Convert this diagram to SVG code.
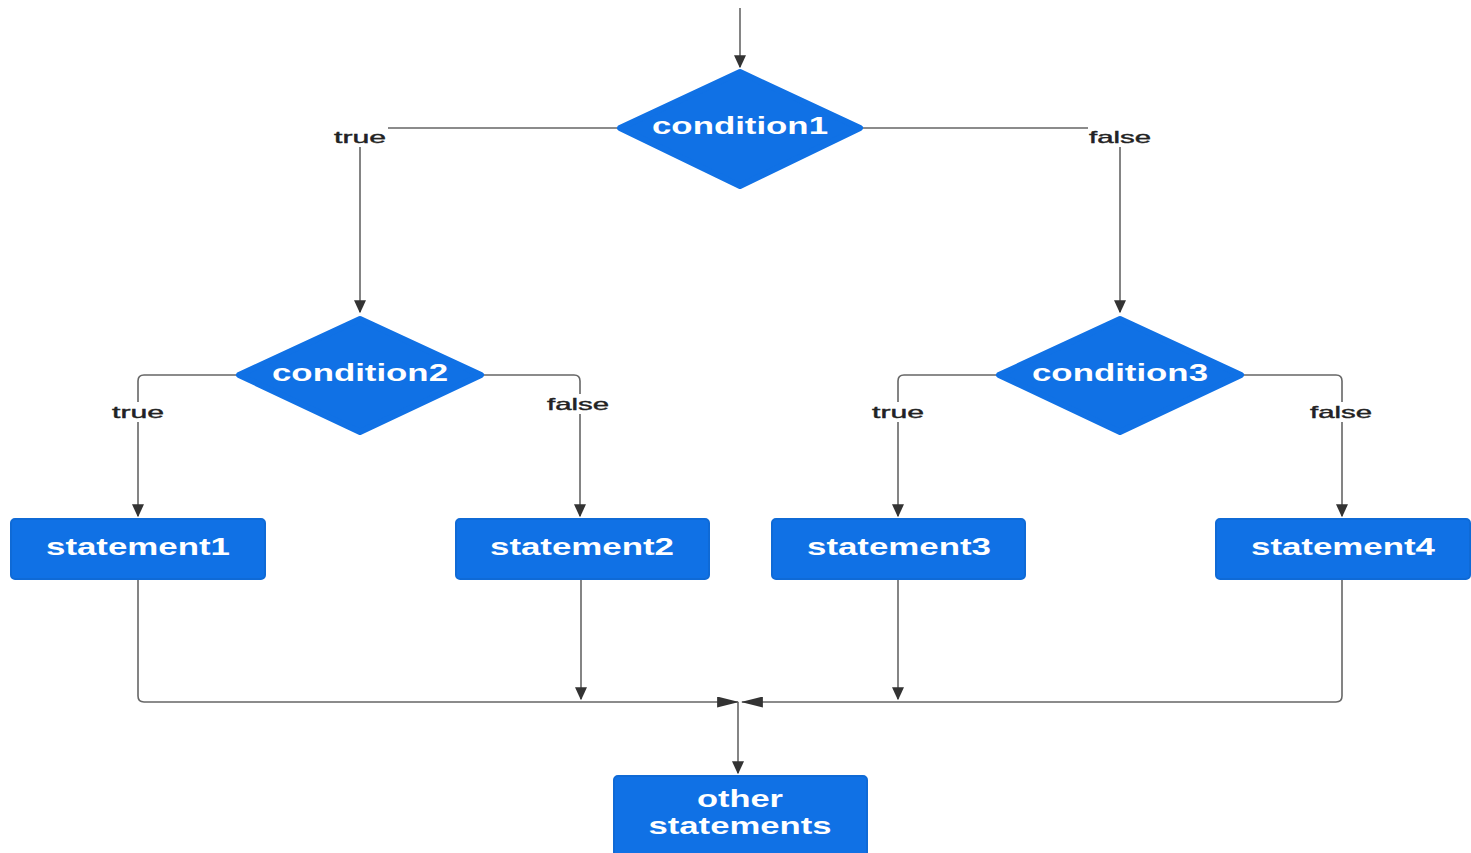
<svg xmlns="http://www.w3.org/2000/svg" width="1471" height="853" viewBox="0 0 1471 853">
<defs>
<marker id="ah" viewBox="0 0 10 10" refX="9" refY="5" markerWidth="13" markerHeight="12" markerUnits="userSpaceOnUse" orient="auto" preserveAspectRatio="none">
<path d="M0,0 L10,5 L0,10 z" fill="#333"/>
</marker>
<marker id="ahw" viewBox="0 0 10 10" refX="9.5" refY="5" markerWidth="22" markerHeight="11" markerUnits="userSpaceOnUse" orient="auto" preserveAspectRatio="none">
<path d="M0,0 L10,5 L0,10 z" fill="#333"/>
</marker>
<style>
.edge{fill:none;stroke:#666;stroke-width:1.6;stroke-linejoin:round}
.shape{fill:#1071e5;stroke:#0f6ad6;stroke-width:2}
.dia{fill:#1071e5;stroke:#1071e5;stroke-width:6;stroke-linejoin:round}
.nt{font-family:"Liberation Sans",Arial,sans-serif;font-weight:bold;font-size:24px;fill:#ffffff;text-anchor:middle}
.lbl{font-family:"Liberation Sans",Arial,sans-serif;font-size:17px;fill:#222;text-anchor:middle;stroke:#222;stroke-width:0.4}
.lbg{fill:#ffffff}
</style>
</defs>
<rect width="1471" height="853" fill="#ffffff"/>
<g id="connectors">
<path class="edge" d="M740,8 V67" marker-end="url(#ah)"/>
<path class="edge" d="M617,128 H366 Q360,128 360,134 V312" marker-end="url(#ah)"/>
<path class="edge" d="M863,128 H1114 Q1120,128 1120,134 V312" marker-end="url(#ah)"/>
<path class="edge" d="M236,375 H144 Q138,375 138,381 V516" marker-end="url(#ah)"/>
<path class="edge" d="M484,375 H574 Q580,375 580,381 V516" marker-end="url(#ah)"/>
<path class="edge" d="M996,375 H904 Q898,375 898,381 V516" marker-end="url(#ah)"/>
<path class="edge" d="M1244,375 H1336 Q1342,375 1342,381 V516" marker-end="url(#ah)"/>
<path class="edge" d="M138,579 V696 Q138,702 144,702 H738" marker-end="url(#ahw)"/>
<path class="edge" d="M1342,579 V696 Q1342,702 1336,702 H742" marker-end="url(#ahw)"/>
<path class="edge" d="M581,579 V699" marker-end="url(#ah)"/>
<path class="edge" d="M898,579 V699" marker-end="url(#ah)"/>
<path class="edge" d="M738,702 V773" marker-end="url(#ah)"/>
<rect class="lbg" x="332" y="127" width="56" height="20"/>
<text class="lbl" x="360" y="143" textLength="52" lengthAdjust="spacingAndGlyphs">true</text>
<rect class="lbg" x="1088" y="127" width="66" height="20"/>
<text class="lbl" x="1120" y="143" textLength="62" lengthAdjust="spacingAndGlyphs">false</text>
<rect class="lbg" x="110" y="402" width="56" height="20"/>
<text class="lbl" x="138" y="418" textLength="52" lengthAdjust="spacingAndGlyphs">true</text>
<rect class="lbg" x="546" y="394" width="66" height="20"/>
<text class="lbl" x="578" y="410" textLength="62" lengthAdjust="spacingAndGlyphs">false</text>
<rect class="lbg" x="870" y="402" width="56" height="20"/>
<text class="lbl" x="898" y="418" textLength="52" lengthAdjust="spacingAndGlyphs">true</text>
<rect class="lbg" x="1309" y="402" width="66" height="20"/>
<text class="lbl" x="1341" y="418" textLength="62" lengthAdjust="spacingAndGlyphs">false</text>
</g>
<g id="condition1">
<path class="dia" d="M740,72 L860,128 L740,186 L620,128 z"/>
<text class="nt" x="740" y="134" textLength="176" lengthAdjust="spacingAndGlyphs">condition1</text>
</g>
<g id="condition2">
<path class="dia" d="M360,319 L481,375 L360,432 L239,375 z"/>
<text class="nt" x="360" y="381" textLength="176" lengthAdjust="spacingAndGlyphs">condition2</text>
</g>
<g id="condition3">
<path class="dia" d="M1120,319 L1241,375 L1120,432 L999,375 z"/>
<text class="nt" x="1120" y="381" textLength="176" lengthAdjust="spacingAndGlyphs">condition3</text>
</g>
<g id="statement1">
<rect class="shape" x="11" y="519" width="254" height="60" rx="4"/>
<text class="nt" x="138" y="555" textLength="184" lengthAdjust="spacingAndGlyphs">statement1</text>
</g>
<g id="statement2">
<rect class="shape" x="456" y="519" width="253" height="60" rx="4"/>
<text class="nt" x="582" y="555" textLength="184" lengthAdjust="spacingAndGlyphs">statement2</text>
</g>
<g id="statement3">
<rect class="shape" x="772" y="519" width="253" height="60" rx="4"/>
<text class="nt" x="899" y="555" textLength="184" lengthAdjust="spacingAndGlyphs">statement3</text>
</g>
<g id="statement4">
<rect class="shape" x="1216" y="519" width="254" height="60" rx="4"/>
<text class="nt" x="1343" y="555" textLength="184" lengthAdjust="spacingAndGlyphs">statement4</text>
</g>
<g id="other">
<rect class="shape" x="614" y="776" width="253" height="82" rx="4"/>
<text class="nt" x="740" y="807" textLength="86" lengthAdjust="spacingAndGlyphs">other</text>
<text class="nt" x="740" y="834" textLength="183" lengthAdjust="spacingAndGlyphs">statements</text>
</g>
</svg>
